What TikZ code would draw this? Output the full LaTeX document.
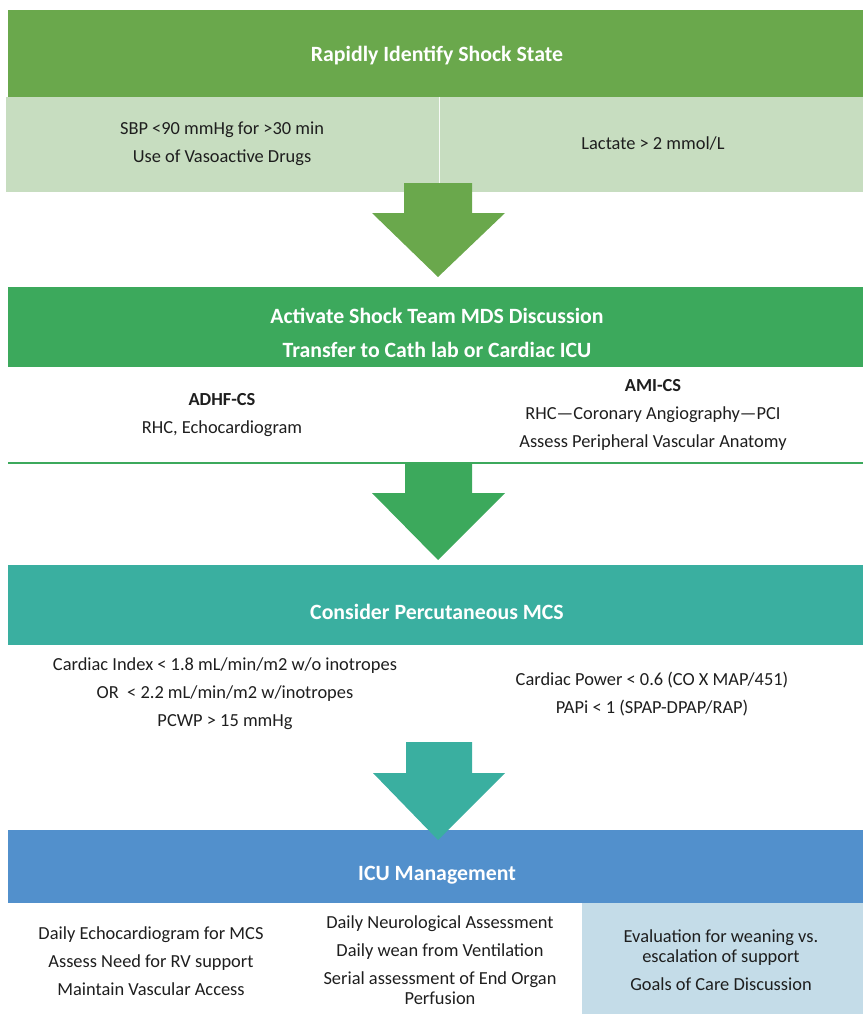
\documentclass[tikz,border=0pt]{standalone}
\usepackage{fontspec}
\setmainfont{Carlito}
\definecolor{gA}{RGB}{106,168,76}
\definecolor{gAl}{RGB}{199,221,192}
\definecolor{gB}{RGB}{60,169,92}
\definecolor{tC}{RGB}{58,175,160}
\definecolor{bD}{RGB}{82,144,204}
\definecolor{bDl}{RGB}{196,220,232}
\definecolor{txt}{RGB}{30,30,30}
\tikzset{
  band/.style={anchor=north west, inner sep=0pt, outer sep=0pt, draw=none},
  ttl/.style={text=white, font=\fontsize{21.8}{34}\selectfont\bfseries, align=center, inner sep=0pt},
  body/.style={text=txt, font=\fontsize{18.4}{28}\selectfont, align=center, inner sep=0pt},
}
\begin{document}
\begin{tikzpicture}[x=1pt,y=-1pt]
\useasboundingbox (0,0) rectangle (863,1014);
% box 1
\node[band, fill=gA, minimum width=855pt, minimum height=87pt] (b1) at (8,10) {};
\node[band, fill=gAl, minimum width=433pt, minimum height=95pt] (b1l) at (6,97) {};
\node[band, fill=gAl, minimum width=424pt, minimum height=95pt] (b1r) at (439,97) {};
\draw[white!85!gAl, line width=1pt] (b1l.north east) -- (b1l.south east);
\node[ttl] (t1) at (437,56) {Rapidly Identify Shock State};
\node[body] (c1l) at (222,144) {SBP <90 mmHg for >30 min\\Use of Vasoactive Drugs};
\node[body] (c1r) at (653,144) {Lactate > 2 mmol/L};
% arrow 1
\fill[gA] (404,183) -- (472,183) -- (472,213) -- (505,213) -- (438,277) -- (372,213) -- (404,213) -- cycle;
% box 2
\node[band, fill=gB, minimum width=855pt, minimum height=80pt] (b2) at (8,287) {};
\node[ttl] (t2) at (437,333) {Activate Shock Team MDS Discussion\\Transfer to Cath lab or Cardiac ICU};
\node[body] (c2l) at (222,415) {\textbf{ADHF-CS}\\RHC, Echocardiogram};
\node[body] (c2r) at (653,415) {\textbf{AMI-CS}\\RHC—Coronary Angiography—PCI\\Assess Peripheral Vascular Anatomy};
\coordinate (l2a) at (8,463);
\coordinate (l2b) at (863,463);
\draw[gB, line width=2pt] (l2a) -- (l2b);
% arrow 2
\fill[gB] (405,463) -- (472,463) -- (472,493) -- (505,493) -- (438,560) -- (372,493) -- (405,493) -- cycle;
% box 3
\node[band, fill=tC, minimum width=855pt, minimum height=80pt] (b3) at (8,565) {};
\node[ttl] (t3) at (437,612) {Consider Percutaneous MCS};
\node[body] (c3l) at (225,694) {Cardiac Index < 1.8 mL/min/m2 w/o inotropes\\OR \ < 2.2 mL/min/m2 w/inotropes\\PCWP > 15 mmHg};
\node[body] (c3r) at (652,694) {Cardiac Power < 0.6 (CO X MAP/451)\\PAPi < 1 (SPAP-DPAP/RAP)};
% box 4
\node[band, fill=bD, minimum width=855pt, minimum height=73pt] (b4) at (8,830) {};
\node[band, fill=bDl, minimum width=281pt, minimum height=111pt] (b4r) at (582,903) {};
% arrow 3
\fill[tC] (406,742) -- (472,742) -- (472,773) -- (505,773) -- (438,840) -- (373,773) -- (406,773) -- cycle;
\node[ttl] (t4) at (437,875) {ICU Management};
\node[body] (c4l) at (151,961) {Daily Echocardiogram for MCS\\Assess Need for RV support\\Maintain Vascular Access};
\node[body] (c4m) at (440,960) {Daily Neurological Assessment\\Daily wean from Ventilation\\Serial assessment of End Organ\\[-8pt]Perfusion};
\node[body] (c4r) at (721,960) {Evaluation for weaning vs.\\[-8pt]escalation of support\\Goals of Care Discussion};
\end{tikzpicture}
\end{document}
